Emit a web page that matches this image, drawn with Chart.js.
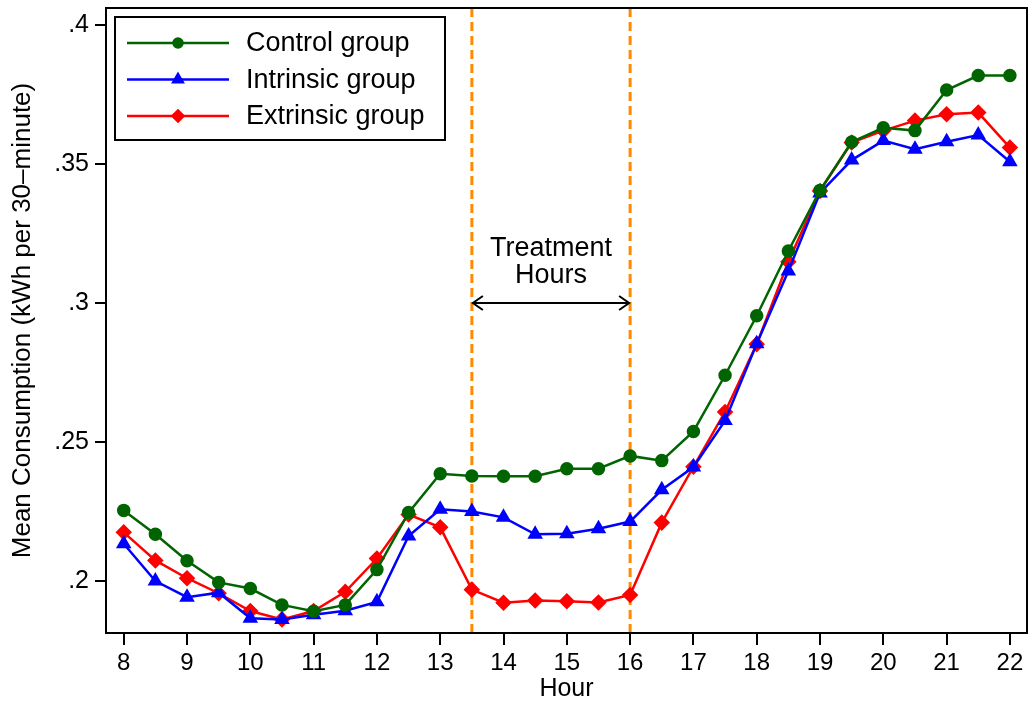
<!DOCTYPE html>
<html>
<head>
<meta charset="utf-8">
<script src="https://cdn.jsdelivr.net/npm/chart.js@4"></script>
<style>
  html, body { margin: 0; background: #fff; overflow: hidden; }
  canvas { display: block; }
</style>
</head>
<body>
<canvas id="consumptionChart" width="1030" height="701"></canvas>
<script>
const hours = [8, 8.5, 9, 9.5, 10, 10.5, 11, 11.5, 12, 12.5, 13, 13.5, 14, 14.5, 15,
  15.5, 16, 16.5, 17, 17.5, 18, 18.5, 19, 19.5, 20, 20.5, 21, 21.5, 22];

const controlGroup = [0.2254, 0.2168, 0.2073, 0.1995, 0.1973, 0.1914, 0.1891, 0.1914, 0.2041,
  0.2246, 0.2386, 0.2378, 0.2377, 0.2377, 0.2404, 0.2404, 0.2450, 0.2433, 0.2538, 0.2740,
  0.2954, 0.3187, 0.3405, 0.3579, 0.3630, 0.3620, 0.3766, 0.3818, 0.3818];

const intrinsicGroup = [0.2134, 0.2000, 0.1942, 0.1958, 0.1866, 0.1862, 0.1879, 0.1893, 0.1925,
  0.2162, 0.2258, 0.2250, 0.2229, 0.2168, 0.2170, 0.2188, 0.2214, 0.2328, 0.2410, 0.2577,
  0.2853, 0.3115, 0.3396, 0.3514, 0.3584, 0.3553, 0.3580, 0.3604, 0.3508];

const extrinsicGroup = [0.2175, 0.2074, 0.2010, 0.1956, 0.1892, 0.1862, 0.1892, 0.1961, 0.2081,
  0.2239, 0.2193, 0.1969, 0.1922, 0.1930, 0.1927, 0.1923, 0.1950, 0.2210, 0.2411, 0.2608,
  0.2852, 0.3148, 0.3403, 0.3577, 0.3620, 0.3656, 0.3679, 0.3685, 0.3559];

const xTicks = [8, 9, 10, 11, 12, 13, 14, 15, 16, 17, 18, 19, 20, 21, 22];
const yTicks = [0.2, 0.25, 0.3, 0.35, 0.4];
const yTickLabels = [".2", ".25", ".3", ".35", ".4"];

const treatmentStart = 13.5;
const treatmentEnd = 16;
const arrowLevel = 0.3;

const FONT = "'Liberation Sans', Arial, Helvetica, sans-serif";

function toPoints(values) {
  return hours.map((h, i) => ({ x: h, y: values[i] }));
}

// dashed treatment lines behind the series
const treatmentLines = {
  id: "treatmentLines",
  beforeDatasetsDraw(chart) {
    const { ctx, chartArea, scales } = chart;
    ctx.save();
    ctx.strokeStyle = "#ff8a00";
    ctx.lineWidth = 3;
    ctx.setLineDash([9, 5]);
    [treatmentStart, treatmentEnd].forEach((h) => {
      const x = scales.x.getPixelForValue(h);
      ctx.beginPath();
      ctx.moveTo(x, chartArea.top);
      ctx.lineTo(x, chartArea.bottom);
      ctx.stroke();
    });
    ctx.restore();
  },
};

// arrow, label, frame and legend box
const overlay = {
  id: "overlay",
  afterDraw(chart) {
    const { ctx, chartArea, scales } = chart;
    ctx.save();

    const x1 = scales.x.getPixelForValue(treatmentStart);
    const x2 = scales.x.getPixelForValue(treatmentEnd);
    const y = scales.y.getPixelForValue(arrowLevel);
    ctx.strokeStyle = "#000";
    ctx.lineWidth = 2;
    ctx.beginPath();
    ctx.moveTo(x1 + 1, y);
    ctx.lineTo(x2 - 1, y);
    ctx.moveTo(x1 + 11, y - 7);
    ctx.lineTo(x1 + 1, y);
    ctx.lineTo(x1 + 11, y + 7);
    ctx.moveTo(x2 - 11, y - 7);
    ctx.lineTo(x2 - 1, y);
    ctx.lineTo(x2 - 11, y + 7);
    ctx.stroke();

    ctx.fillStyle = "#000";
    ctx.font = "27px " + FONT;
    ctx.textAlign = "center";
    ctx.textBaseline = "middle";
    ctx.fillText("Treatment", (x1 + x2) / 2, y - 54);
    ctx.fillText("Hours", (x1 + x2) / 2, y - 27);

    // frame
    ctx.lineWidth = 2;
    ctx.strokeRect(chartArea.left, chartArea.top, chartArea.right - chartArea.left, chartArea.bottom - chartArea.top);

    // legend
    const bx = chartArea.left + 9;
    const by = chartArea.top + 9;
    ctx.fillStyle = "#fff";
    ctx.fillRect(bx, by, 330, 123);
    ctx.strokeRect(bx, by, 330, 123);
    ctx.font = "27px " + FONT;
    ctx.textAlign = "left";
    chart.data.datasets.forEach((ds, i) => {
      const ry = by + 26 + i * 36.5;
      ctx.strokeStyle = ds.borderColor;
      ctx.lineWidth = ds.borderWidth;
      ctx.beginPath();
      ctx.moveTo(bx + 12, ry);
      ctx.lineTo(bx + 114, ry);
      ctx.stroke();
      ctx.fillStyle = ds.backgroundColor;
      Chart.helpers.drawPoint(ctx, {
        pointStyle: ds.pointStyle,
        radius: ds.pointRadius - 1,
        rotation: 0,
        borderWidth: 1,
      }, bx + 63, ry);
      ctx.fillStyle = "#000";
      ctx.fillText(ds.label, bx + 131, ry + 1);
    });

    ctx.restore();
  },
};

new Chart(document.getElementById("consumptionChart"), {
  type: "line",
  data: {
    datasets: [
      {
        label: "Control group",
        data: toPoints(controlGroup),
        borderColor: "#006400",
        backgroundColor: "#006400",
        borderWidth: 2.5,
        pointStyle: "circle",
        pointRadius: 5.5,
      },
      {
        label: "Intrinsic group",
        data: toPoints(intrinsicGroup),
        borderColor: "#0000ff",
        backgroundColor: "#0000ff",
        borderWidth: 2.5,
        pointStyle: "triangle",
        pointRadius: 6.5,
      },
      {
        label: "Extrinsic group",
        data: toPoints(extrinsicGroup),
        borderColor: "#ff0000",
        backgroundColor: "#ff0000",
        borderWidth: 2.5,
        pointStyle: "rectRot",
        pointRadius: 6.5,
      },
    ],
  },
  options: {
    responsive: false,
    animation: false,
    // point radius would otherwise add its own padding round the plot area
    layout: { autoPadding: false, padding: { top: 8, right: 3, left: 0, bottom: 0 } },
    plugins: {
      legend: { display: false },
      tooltip: { enabled: false },
    },
    scales: {
      x: {
        type: "linear",
        min: 7.72,
        max: 22.27,
        afterBuildTicks: (s) => { s.ticks = xTicks.map((v) => ({ value: v })); },
        afterFit: (s) => { s.height = 68; s.paddingLeft = 0; s.paddingRight = 0; },
        border: { display: false },
        grid: { drawOnChartArea: false, drawTicks: true, tickLength: 12, color: "#000", lineWidth: 2 },
        ticks: { color: "#000", font: { family: FONT, size: 24 }, padding: 4, maxRotation: 0, autoSkip: false },
        title: { display: true, text: "Hour", color: "#000", font: { family: FONT, size: 25 }, padding: { top: 0, bottom: -3 } },
      },
      y: {
        min: 0.1813,
        max: 0.4061,
        afterBuildTicks: (s) => { s.ticks = yTicks.map((v) => ({ value: v })); },
        afterFit: (s) => { s.width = 106; s.paddingTop = 0; s.paddingBottom = 0; },
        border: { display: false },
        grid: { drawOnChartArea: false, drawTicks: true, tickLength: 11, color: "#000", lineWidth: 2 },
        ticks: {
          color: "#000",
          font: { family: FONT, size: 25 },
          padding: 6,
          callback: (v) => yTickLabels[yTicks.findIndex((t) => Math.abs(t - v) < 1e-9)],
        },
        title: { display: true, text: "Mean Consumption (kWh per 30–minute)", color: "#000", font: { family: FONT, size: 26 }, padding: { top: 7, bottom: 0 } },
      },
    },
  },
  plugins: [treatmentLines, overlay],
});
</script>
</body>
</html>
